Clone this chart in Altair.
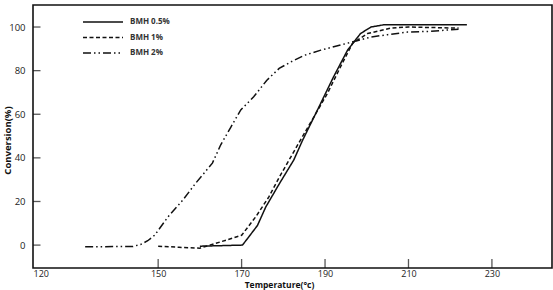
import altair as alt
import pandas as pd

series_names = ["BMH 0.5%", "BMH 1%", "BMH 2%"]

t_05 = [160, 170.2, 171.7, 173.8, 175.8, 179, 182.5, 184.6, 188.2, 192, 195.4, 198.5, 201, 204, 224]
v_05 = [-0.5, 0, 3.7, 9, 17.5, 28, 39, 48, 62, 77, 89.4, 97, 100, 101, 101]

t_1 = [150, 155, 160, 165, 170, 173.4, 176.5, 179, 183.7, 187.3, 190.6, 193.7, 196.6, 200.2, 205.7, 210, 222]
v_1 = [-0.5, -1, -1.4, 1.5, 4.5, 13, 22, 31, 46.8, 58.7, 69.7, 81.7, 92.6, 97, 99.5, 100, 99.5]

t_2 = [132.5, 144, 145.8, 147.5, 149.2, 152.3, 155.9, 159, 162, 163, 165, 167.4, 169.8, 172.9,
       176, 179, 181.8, 185, 189, 195.4, 201, 205, 209.8, 215, 222]
v_2 = [-0.8, -0.6, 0.3, 2, 4.6, 12.8, 20.6, 28.4, 35.3, 37.6, 46, 54, 62, 68,
       75.5, 81, 84, 87, 89.4, 92.6, 95.4, 96.5, 97.7, 98, 99]

x_labels = [120, 150, 170, 190, 210, 230]
x_tick_marks = [150, 170, 190, 210, 230]
y_ticks = [0, 20, 40, 60, 80, 100]

dash_range = [[1, 0], [4, 2.5], [8, 3, 1.5, 3, 1.5, 3]]

rows = []
for name, ts, vs in zip(series_names, [t_05, t_1, t_2], [v_05, v_1, v_2]):
    for i, (t, v) in enumerate(zip(ts, vs)):
        rows.append({"series": name, "temp": t, "conv": v, "order": i})
df = pd.DataFrame(rows)

FONT = "Open Sans"
INK = "#111111"

xscale = alt.Scale(domain=[120, 244.4], nice=False, zero=False)
yscale = alt.Scale(domain=[-10.5, 110.1], nice=False, zero=False)

x_axis = alt.Axis(
    values=x_labels, title="Temperature(°c)", ticks=False, tickSize=0,
    labelFlush=True, labelPadding=1, grid=False, domain=False,
    labelFont=FONT, labelFontSize=9, labelColor="#222",
    titleFont=FONT, titleFontSize=8.5, titleFontWeight="bold", titleColor="#111",
    titleX=246, titleY=12.5, titleBaseline="top", titleAlign="center")
y_axis = alt.Axis(
    values=y_ticks, title="Conversion(%)", ticks=False, tickSize=0,
    labelPadding=8, grid=False, domain=False,
    labelFont=FONT, labelFontSize=9.5, labelColor="#222",
    titleFont=FONT, titleFontSize=9.5, titleFontWeight="bold", titleColor="#111",
    titleX=-26, titleY=135, titleAngle=270, titleAlign="center", titleBaseline="middle")

lines = alt.Chart(df).mark_line(strokeWidth=1.5, color=INK).encode(
    x=alt.X("temp:Q", scale=xscale, axis=x_axis),
    y=alt.Y("conv:Q", scale=yscale, axis=y_axis),
    strokeDash=alt.StrokeDash("series:N", scale=alt.Scale(domain=series_names, range=dash_range),
        legend=alt.Legend(title=None, orient="none", legendX=49, legendY=10.5,
                          symbolType="stroke", symbolSize=1600, symbolStrokeWidth=1.5,
                          symbolStrokeColor=INK, clipHeight=13, rowPadding=2.5,
                          labelOffset=6, labelFont=FONT, labelFontSize=8,
                          labelFontWeight="bold", labelColor="#333", padding=0)),
    order="order:Q",
)

xt = alt.Chart(pd.DataFrame({"temp": x_tick_marks})).mark_tick(
    orient="vertical", size=9, thickness=1.3, color=INK).encode(
    x=alt.X("temp:Q", scale=xscale, axis=x_axis),
    y=alt.value(258.5),
)

yt = alt.Chart(pd.DataFrame({"conv": y_ticks})).mark_tick(
    orient="horizontal", size=7.5, thickness=1.3, color=INK).encode(
    y=alt.Y("conv:Q", scale=yscale, axis=y_axis),
    x=alt.value(3.75),
)

chart = alt.layer(lines, xt, yt).properties(
    width=519, height=263,
    padding={"left": 33, "top": 5, "right": 1, "bottom": 22},
    autosize=alt.AutoSizeParams(type="none"),
    background="white",
).configure_view(stroke=INK, strokeWidth=1.6)

chart.save("out.html", embed_options={"renderer": "svg", "actions": False})
